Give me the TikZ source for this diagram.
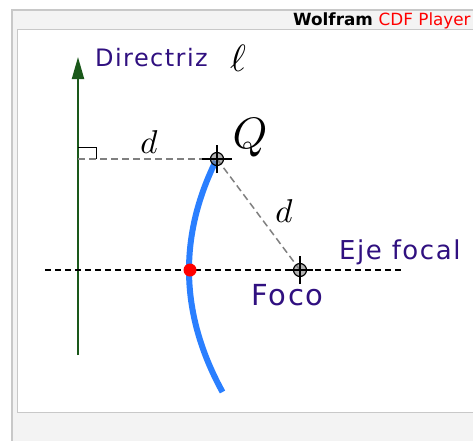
\documentclass[tikz,border=0pt]{standalone}
\usepackage{fontspec}
\setmainfont{DejaVu Sans}
\newfontfamily\labelfont[LetterSpace=6]{DejaVu Sans}
\usetikzlibrary{arrows.meta}
\definecolor{txtpurple}{RGB}{48,16,128}
\definecolor{dirgreen}{RGB}{26,88,26}
\definecolor{curveblue}{RGB}{42,127,255}
\definecolor{bggray}{RGB}{243,243,243}
\definecolor{bordergray}{RGB}{200,200,200}
\definecolor{dashgray}{RGB}{128,128,128}
\tikzset{
  lbl/.style={text=txtpurple, inner sep=0pt, anchor=base west},
  mathlbl/.style={inner sep=0pt, anchor=base},
  graydash/.style={draw=dashgray, line width=1.5pt, dash pattern=on 7pt off 4pt},
  axisdash/.style={draw=black, line width=1.2pt, dash pattern=on 6pt off 4pt},
  dirline/.style={draw=dirgreen, line width=2pt, -{Triangle[length=22pt,width=12pt]}},
  curvestyle/.style={draw=curveblue, line width=6pt},
  ptmark/.style={circle, draw=black, fill=gray, fill opacity=0.6, draw opacity=1, minimum size=13pt, inner sep=0pt, line width=1.2pt},
  crossline/.style={draw=black, line width=1.2pt},
}
\begin{document}
\begin{tikzpicture}[x=1pt,y=-1pt]
\useasboundingbox (0,0) rectangle (473,440);
\clip (0,0) rectangle (473,440);
% frame
\fill[white] (0,0) rectangle (473,440);
\fill[bggray] (11,9) rectangle (480,445);
\draw[bordergray, line width=2pt] (12,445) -- (12,10) -- (480,10);
\fill[white] (17,29) rectangle (480,413);
\draw[bordergray, line width=1pt] (480,29.5) -- (17.5,29.5) -- (17.5,412.5) -- (480,412.5);
\node[inner sep=0pt, anchor=base west, font=\fontsize{16.8}{19}\selectfont] (title) at (293,25)
  {\bfseries Wolfram \mdseries\textcolor{red}{CDF Player}};
% coordinates
\coordinate (dbot) at (78,355);
\coordinate (dtop) at (78,57);
\coordinate (H) at (78,159);
\coordinate (Q) at (217,159);
\coordinate (F) at (300,270);
\coordinate (axL) at (45,270);
\coordinate (axR) at (403,270);
\coordinate (ra1) at (78,147);
\coordinate (ra2) at (96,147);
\coordinate (ra3) at (96,159);
% directrix
\draw[dirline] (dbot) -- (dtop);
\draw[black, line width=0.9pt] (ra1) -- (ra2) -- (ra3);
% axis
\draw[axisdash] (axL) -- (axR);
% parabola
\draw[curvestyle] plot[domain=161:392, samples=60, variable=\t] ({189+((\t-270)/21.07)^2}, \t);
% distances
\draw[graydash] (H) -- (Q);
\draw[graydash] (Q) -- (F);
% vertex
\node[circle, fill=red, minimum size=13pt, inner sep=0pt] (V) at (190,270) {};
% Q mark
\node[ptmark] (Qm) at (Q) {};
\draw[crossline] ([xshift=-15pt]Q) -- ([xshift=15pt]Q);
\draw[crossline] ([yshift=-14pt]Q) -- ([yshift=14pt]Q);
% F mark
\node[ptmark] (Fm) at (F) {};
\draw[crossline] ([xshift=-13pt]F) -- ([xshift=13pt]F);
\draw[crossline] ([yshift=-14pt]F) -- ([yshift=14pt]F);
% labels
\node[lbl, font=\labelfont\fontsize{24}{28}\selectfont] (dirlab) at (95,66) {Directriz};
\node[mathlbl] (ell) at (238,71) {\scalebox{3.8}{$\ell$}};
\node[mathlbl] (Qlab) at (250,148) {\scalebox{4.4}{$Q$}};
\node[mathlbl] (d1) at (149,153) {\scalebox{3.3}{$d$}};
\node[mathlbl] (d2) at (284,222) {\scalebox{3.3}{$d$}};
\node[lbl, font=\labelfont\fontsize{26}{30}\selectfont] (eje) at (339,259) {Eje focal};
\node[lbl, font=\labelfont\fontsize{29}{32}\selectfont] (foco) at (251,305) {Foco};
\end{tikzpicture}
\end{document}
